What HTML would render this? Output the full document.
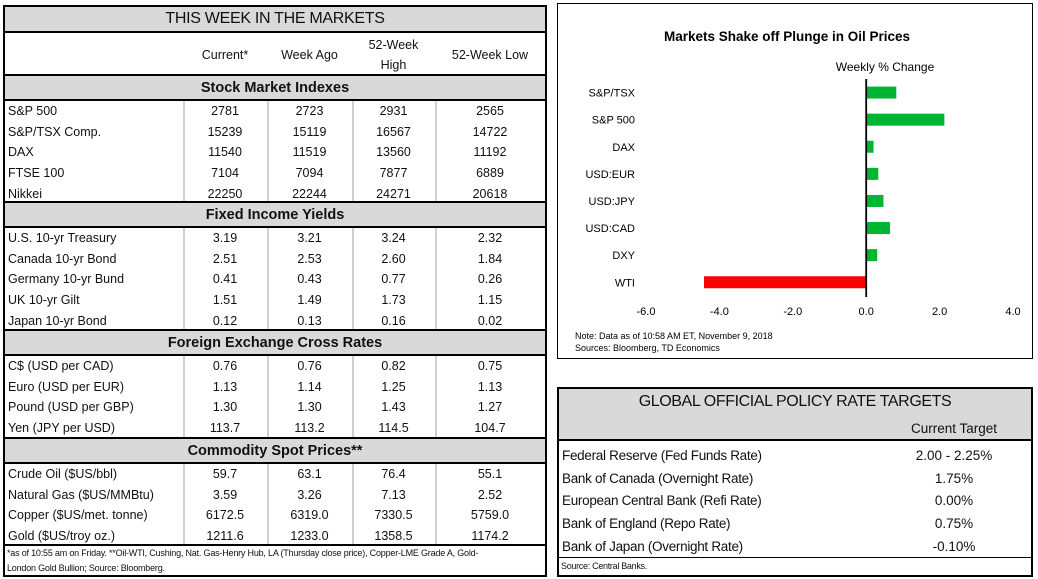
<!DOCTYPE html>
<html><head><meta charset="utf-8">
<style>
*{margin:0;padding:0;box-sizing:border-box}
body{width:1038px;height:579px;background:#fff;position:relative;overflow:hidden;font-family:"Liberation Sans",sans-serif;color:#111}
.abs{position:absolute}
#left{left:3px;top:5px;width:544px;height:572px;border:2px solid #000}
.row{position:absolute;left:0;width:540px;font-size:12.5px}
.row div{position:absolute;top:0;height:100%;display:flex;align-items:center}
.gray{background:#d9d9d9;border-top:2px solid #000;border-bottom:2px solid #000;font-weight:bold;font-size:14.5px;justify-content:center;display:flex;align-items:center}
.c{justify-content:center}
.vl{position:absolute;width:2px;background:#d0d0d0}
#policy{left:557px;top:387px;width:476px;height:190px;border:2px solid #000}
#chartbox{left:557px;top:3px;width:476px;height:356px;border:1px solid #000}
</style></head><body>
<div id="left" class="abs"></div>
<div id="policy" class="abs"></div>
<div id="chartbox" class="abs">
<svg id="chart" width="476" height="356"></svg>
</div>
<script>
// ---------- Left table ----------
const L=document.getElementById('left');
const colX=[[0,178],[178,262],[262,347],[347,430],[430,540]];
function mk(parent,cls,style,text){const d=document.createElement('div');if(cls)d.className=cls;d.setAttribute('style',style);if(text!==undefined)d.textContent=text;parent.appendChild(d);return d;}
let t=mk(L,'gray','position:absolute;left:0;top:0;width:540px;height:26px;border-top:none;font-weight:normal;font-size:16px;letter-spacing:-0.3px','THIS WEEK IN THE MARKETS');


const hdr=['Current*','Week Ago','52-Week<br>High','52-Week Low'];
for(let i=0;i<4;i++){const h=mk(L,'', `position:absolute;top:26px;height:43px;left:${colX[i+1][0]}px;width:${colX[i+1][1]-colX[i+1][0]}px;display:flex;align-items:center;justify-content:center;text-align:center;font-size:12.5px;line-height:20px`);h.innerHTML=hdr[i];

}
const sections=[
 {title:'Stock Market Indexes',top:67,rows:[['S&P 500','2781','2723','2931','2565'],['S&P/TSX Comp.','15239','15119','16567','14722'],['DAX','11540','11519','13560','11192'],['FTSE 100','7104','7094','7877','6889'],['Nikkei','22250','22244','24271','20618']]},
 {title:'Fixed Income Yields',top:194,rows:[['U.S. 10-yr Treasury','3.19','3.21','3.24','2.32'],['Canada 10-yr Bond','2.51','2.53','2.60','1.84'],['Germany 10-yr Bund','0.41','0.43','0.77','0.26'],['UK 10-yr Gilt','1.51','1.49','1.73','1.15'],['Japan 10-yr Bond','0.12','0.13','0.16','0.02']]},
 {title:'Foreign Exchange Cross Rates',top:322,rows:[['C$ (USD per CAD)','0.76','0.76','0.82','0.75'],['Euro (USD per EUR)','1.13','1.14','1.25','1.13'],['Pound (USD per GBP)','1.30','1.30','1.43','1.27'],['Yen (JPY per USD)','113.7','113.2','114.5','104.7']]},
 {title:'Commodity Spot Prices**',top:430,rows:[['Crude Oil ($US/bbl)','59.7','63.1','76.4','55.1'],['Natural Gas ($US/MMBtu)','3.59','3.26','7.13','2.52'],['Copper ($US/met. tonne)','6172.5','6319.0','7330.5','5759.0'],['Gold ($US/troy oz.)','1211.6','1233.0','1358.5','1174.2']]}
];
const RH=20.6;
sections.forEach(s=>{
 const g=mk(L,'gray',`position:absolute;left:0;top:${s.top}px;width:540px;height:27px`,s.title);
 
 
 const y0=s.top+27;
 for(let i=1;i<5;i++){const v=mk(L,'vl',`left:${colX[i][0]}px;top:${y0}px;height:${s.rows.length*RH}px`);}
 s.rows.forEach((r,ri)=>{
  const row=mk(L,'row',`top:${y0+ri*RH}px;height:${RH}px`);
  
  
  r.forEach((txt,ci)=>{
   const c=mk(row,ci?'c':'',`left:${ci?colX[ci][0]:3}px;width:${colX[ci][1]-colX[ci][0]}px`,txt);
  });
 });
});
const fn=mk(L,'',`position:absolute;left:0;top:537px;width:540px;height:33px;border-top:2px solid #000;font-size:9px;line-height:15px;padding-left:2px;letter-spacing:-0.2px`,'');
fn.innerHTML='*as of 10:55 am on Friday. **Oil-WTI, Cushing, Nat. Gas-Henry Hub, LA (Thursday close price), Copper-LME Grade A, Gold-<br>London Gold Bullion; Source: Bloomberg.';



// ---------- Policy table ----------
const P=document.getElementById('policy');
const ph=mk(P,'',`position:absolute;left:0;top:0;width:472px;height:52px;background:#d9d9d9;border-bottom:2px solid #000`);
mk(ph,'',`position:absolute;left:0;top:4px;width:472px;text-align:center;font-size:16px;letter-spacing:-0.4px`,'GLOBAL OFFICIAL POLICY RATE TARGETS');
mk(ph,'',`position:absolute;left:330px;top:32px;width:130px;text-align:center;font-size:13.5px`,'Current Target');


const pol=[['Federal Reserve (Fed Funds Rate)','2.00 - 2.25%'],['Bank of Canada (Overnight Rate)','1.75%'],['European Central Bank (Refi Rate)','0.00%'],['Bank of England (Repo Rate)','0.75%'],['Bank of Japan (Overnight Rate)','-0.10%']];
pol.forEach((r,i)=>{
 const row=mk(P,'row',`top:${55+i*22.8}px;height:22.8px;width:472px;font-size:13.5px`);
 
 
 mk(row,'',`left:3px;width:320px;letter-spacing:-0.3px`,r[0]);
 mk(row,'c',`left:330px;width:130px`,r[1]);
});
const ps=mk(P,'',`position:absolute;left:0;top:168px;width:472px;height:18px;border-top:1.5px solid #000;font-size:9px;line-height:16px;padding-left:2px;letter-spacing:-0.3px`,'Source: Central Banks.');



// ---------- Chart ----------
const categories=['S&P/TSX','S&P 500','DAX','USD:EUR','USD:JPY','USD:CAD','DXY','WTI'];
const values=[0.82,2.13,0.2,0.33,0.47,0.65,0.3,-4.42];
const ticks=[-6,-4,-2,0,2,4];
const tickLabels=['-6.0','-4.0','-2.0','0.0','2.0','4.0'];
const svg=document.getElementById('chart');
const NS='http://www.w3.org/2000/svg';
// chart-local coords (box left = 557, top = 3)
const xMin=-6,xMax=4,px0=88,px1=455;
const X=v=>px0+(v-xMin)/(xMax-xMin)*(px1-px0);
const rowTop=75,rowStep=27.1;
const Y=i=>rowTop+rowStep*i+rowStep/2;
function el(tag,attrs,text){const e=document.createElementNS(NS,tag);for(const k in attrs)e.setAttribute(k,attrs[k]);if(text!==undefined)e.textContent=text;svg.appendChild(e);return e;}
let e=el('text',{x:229,y:37,'text-anchor':'middle','font-size':'13.5','font-weight':'bold',fill:'#000'},'Markets Shake off Plunge in Oil Prices');


e=el('text',{x:327,y:67,'text-anchor':'middle','font-size':'12',fill:'#000'},'Weekly % Change');


categories.forEach((c,i)=>{
 const v=values[i];
 const b=el('rect',{x:Math.min(X(0),X(v)),y:Y(i)-6,width:Math.abs(X(v)-X(0)),height:12,fill:v<0?'#ff0000':'#00b52f'});
 
 
 const l=el('text',{x:77,y:Y(i)+4,'text-anchor':'end','font-size':'11',fill:'#000'},c);
 
 
});
e=el('line',{x1:X(0),x2:X(0),y1:75,y2:293,stroke:'#000','stroke-width':1.8});


ticks.forEach((tv,i)=>{
 const tl=el('text',{x:X(tv),y:311,'text-anchor':'middle','font-size':'11',fill:'#000'},tickLabels[i]);
 
 
});
e=el('text',{x:17,y:335,'font-size':'9',fill:'#000'},'Note: Data as of  10:58 AM  ET,  November 9, 2018');


e=el('text',{x:17,y:347,'font-size':'9',fill:'#000'},'Sources: Bloomberg, TD Economics');


</script>
</body></html>
